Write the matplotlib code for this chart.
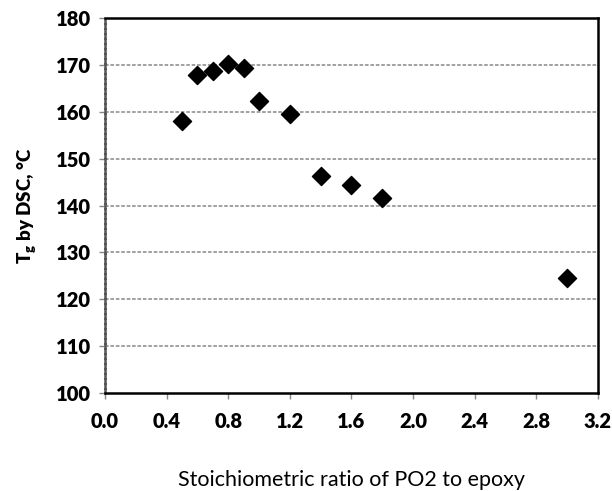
import matplotlib
matplotlib.use("Agg")
import matplotlib.pyplot as plt

ratio = [0.5, 0.6, 0.7, 0.8, 0.9, 1.0, 1.2, 1.4, 1.6, 1.8, 3.0]
tg = [158.1, 167.8, 168.6, 170.2, 169.3, 162.3, 159.6, 146.4, 144.4, 141.6, 124.5]
xticks = [0.0, 0.4, 0.8, 1.2, 1.6, 2.0, 2.4, 2.8, 3.2]
yticks = [100, 110, 120, 130, 140, 150, 160, 170, 180]

plt.rcParams['font.family'] = ['Lato', 'DejaVu Sans']

fig = plt.figure(figsize=(6.12, 4.91), dpi=100)
ax = fig.add_axes([0.1716, 0.1996, 0.8054, 0.7637])

for y in yticks[1:-1]:
    ax.axhline(y, color='#9a9a9a', lw=1.3, ls=(0, (2, 1)), zorder=1)

ax.scatter(ratio, tg, marker='D', s=85, color='black', zorder=3)

ax.set_xlim(0, 3.2)
ax.set_ylim(100, 180)
ax.set_xticks(xticks)
ax.set_yticks(yticks)
ax.set_xticklabels([f"{v:.1f}" for v in xticks], fontsize=14.5, fontweight='heavy')
ax.set_yticklabels([str(v) for v in yticks], fontsize=14.5, fontweight='heavy')
ax.tick_params(axis='both', direction='out', length=4, width=1, color='#888888', pad=6)
ax.tick_params(axis='x', pad=10)

for s in ['top', 'right', 'bottom']:
    ax.spines[s].set_color('black')
    ax.spines[s].set_linewidth(1.8)
ax.spines['left'].set_color('#555555')
ax.spines['left'].set_linewidth(1.8)
ax.spines['left'].set_linestyle((0, (1.5, 0.5)))

ax.set_xlabel("Stoichiometric ratio of PO2 to epoxy", fontsize=15.5, labelpad=28)
ax.set_ylabel(r"T$_\mathregular{g}$ by DSC, °C", fontsize=13.5, fontweight='heavy', labelpad=12)

fig.savefig("out.png", dpi=100)
